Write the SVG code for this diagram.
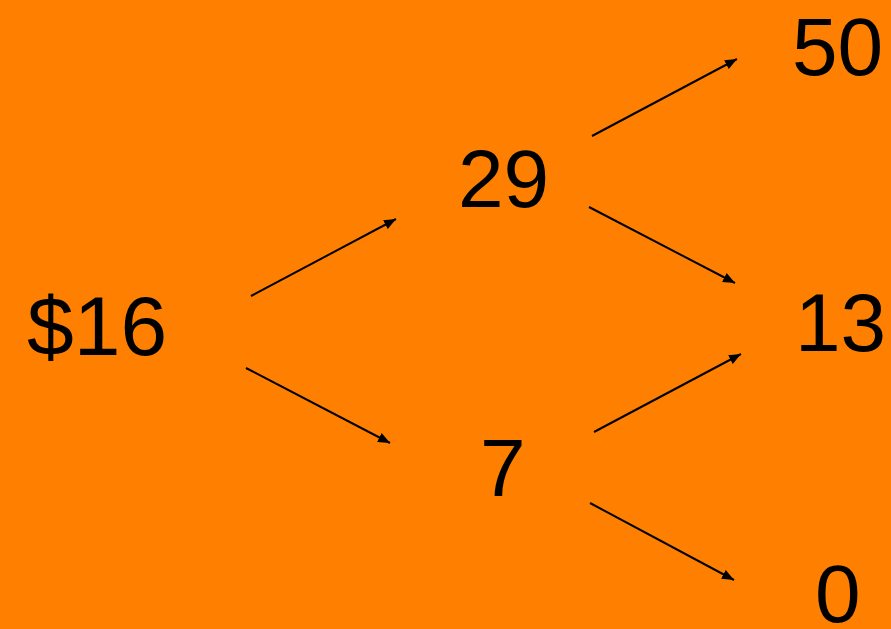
<svg xmlns="http://www.w3.org/2000/svg" width="891" height="629" viewBox="0 0 891 629">
<defs>
<style>
.t{font-family:"Liberation Sans",Arial,sans-serif;font-size:82px;fill:#000}
.c{stroke:#000;stroke-width:2;fill:none;marker-end:url(#ah)}
</style>
<marker id="ah" viewBox="0 0 12 10" refX="12" refY="5" markerWidth="12" markerHeight="10" markerUnits="userSpaceOnUse" orient="auto">
<path d="M0,0 L12,5 L0,10 Z" fill="#000"/>
</marker>
</defs>
<rect width="891" height="629" fill="#FF8000"/>
<g id="n16"><text class="t" x="27" y="355" style="font-size:84px">$16</text></g>
<g id="n29"><text class="t" x="458" y="207">29</text></g>
<g id="n7"><text class="t" x="480" y="496">7</text></g>
<g id="n50"><text class="t" x="792" y="75">50</text></g>
<g id="n13"><text class="t" x="795" y="351">13</text></g>
<g id="n0"><text class="t" x="815" y="622">0</text></g>
<g id="connectors">
<line class="c" x1="251" y1="296" x2="396" y2="219"/>
<line class="c" x1="246" y1="368" x2="390" y2="443"/>
<line class="c" x1="592" y1="136" x2="737" y2="59"/>
<line class="c" x1="589" y1="207" x2="735" y2="283"/>
<line class="c" x1="594" y1="432" x2="741" y2="354"/>
<line class="c" x1="590" y1="503" x2="734" y2="580"/>
</g>
</svg>
